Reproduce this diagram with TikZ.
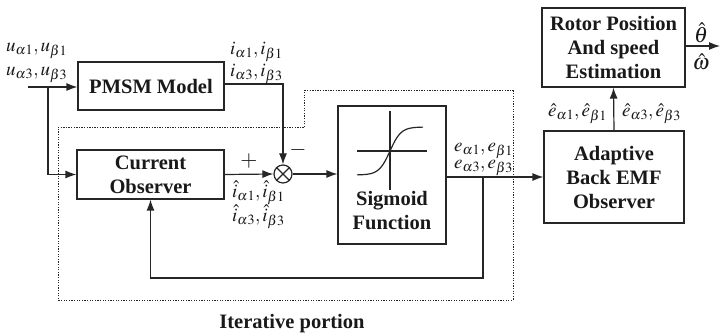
\documentclass[tikz,border=0pt]{standalone}
\usepackage{mathptmx}
\usepackage{fontspec}
\setmainfont{Liberation Serif}
\usetikzlibrary{arrows.meta}
\begin{document}
\begin{tikzpicture}[x=1pt,y=-1pt,
 blk/.style={draw=black!85, line width=1.2pt, font=\fontsize{20.5}{24}\selectfont\bfseries, align=center, inner sep=0pt, text=black!90},
 arr/.style={line width=1.2pt, draw=black!85, -{Latex[length=11pt,width=8pt]}},
 ln/.style={line width=1.2pt, draw=black!85},
 lab/.style={font=\fontsize{19}{22}\selectfont, inner sep=0pt, anchor=west, text=black!90},
 sgn/.style={font=\fontsize{22}{24}\selectfont, inner sep=0pt, text=black!90},
]
\useasboundingbox (0,0) rectangle (721,334);
% blocks
\node[blk, minimum width=146pt, minimum height=48pt] (pmsm) at (151,86) {PMSM Model};
\node[blk, minimum width=147pt, minimum height=49pt] (co) at (150.5,174.5) {Current\\Observer};
\node[blk, minimum width=108pt, minimum height=138pt] (sig) at (392,175) {};
\node[font=\fontsize{20.5}{24}\selectfont\bfseries, align=center, inner sep=0pt, text=black!90] (sigtxt) at (392,211) {Sigmoid\\Function};
\node[blk, minimum width=140pt, minimum height=92pt] (ad) at (614,177) {Adaptive\\Back EMF\\Observer};
\node[blk, minimum width=143pt, minimum height=79pt] (rot) at (613.5,47.5) {Rotor Position\\And speed\\Estimation};
\node[circle, draw=black!85, line width=1.2pt, minimum size=18pt, inner sep=0pt] (sum) at (283,174) {};
\draw[ln] (sum.north west) -- (sum.south east);
\draw[ln] (sum.north east) -- (sum.south west);
% sigmoid graph
\draw[ln] (357,151) -- (427,151);
\draw[ln] (390,111) -- (390,190);
\draw[ln] plot[domain=-33:33, samples=60, smooth] ({390+\x},{151-24*tanh(\x/11)});
% coordinates
\coordinate (in) at (28,87);
\coordinate (br) at (48,87);
\coordinate (fb) at (483,177);
\coordinate (fbb) at (483,278);
\coordinate (out) at (720,46);
% connectors
\draw[arr] (in) -- (pmsm.west |- in);
\draw[arr] (br) |- (co.west);
\draw[arr] ([yshift=2pt]pmsm.east) -| (sum.north);
\draw[arr] (co.east) -- (sum.west);
\draw[arr] (sum.east) -- (sig.west |- sum.east);
\draw[arr] (sig.east |- ad.west) -- (ad.west);
\draw[arr] (fb) -- (fbb) -| (co.south);
\draw[arr] (ad.north) -- (rot.south);
\draw[arr] (rot.east |- out) -- (out);
% iterative portion
\draw[black!85, line width=1pt, dash pattern=on 1.3pt off 1.3pt] (58,128) -- (304,128) -- (304,91) -- (513,91) -- (513,300) -- (58,300) -- cycle;
\node[font=\fontsize{20.5}{24}\selectfont\bfseries, inner sep=0pt, text=black!90] (iter) at (292,324) {Iterative portion};
% labels
\node[lab] (u1) at (6,51) {$u_{\alpha1},u_{\beta1}$};
\node[lab] (u3) at (6,75) {$u_{\alpha3},u_{\beta3}$};
\node[lab] (i1) at (230,52) {$i_{\alpha1},i_{\beta1}$};
\node[lab] (i3) at (230,74) {$i_{\alpha3},i_{\beta3}$};
\node[sgn] (plus) at (249,161) {$+$};
\node[sgn] (minus) at (298,150) {$-$};
\node[lab] (ih1) at (232,193) {$\hat{i}_{\alpha1},\hat{i}_{\beta1}$};
\node[lab] (ih3) at (232,217) {$\hat{i}_{\alpha3},\hat{i}_{\beta3}$};
\node[lab] (e1) at (454,151) {$e_{\alpha1},e_{\beta1}$};
\node[lab] (e3) at (454,168) {$e_{\alpha3},e_{\beta3}$};
\node[lab] (eh1) at (548,114) {$\hat{e}_{\alpha1},\hat{e}_{\beta1}$};
\node[lab] (eh3) at (622,114) {$\hat{e}_{\alpha3},\hat{e}_{\beta3}$};
\node[sgn] (th) at (701,33) {$\hat{\theta}$};
\node[sgn] (om) at (701,62) {$\hat{\omega}$};
\end{tikzpicture}
\end{document}
